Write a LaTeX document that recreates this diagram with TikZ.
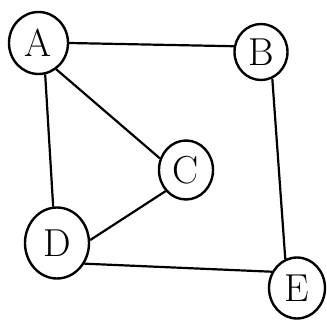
\documentclass[tikz,border=0pt]{standalone}
\usepackage{fontspec}
\usetikzlibrary{shapes.geometric}
\begin{document}
\begin{tikzpicture}[x=1pt,y=-1pt,
  vtx/.style={draw,ellipse,line width=2.4pt,inner sep=0pt,font=\fontsize{39}{42}\selectfont},
  edge/.style={line width=2.2pt}]
\useasboundingbox (0,0) rectangle (327,321);
\node[vtx,minimum width=59,minimum height=62] (A) at (38.5,43) {A};
\node[vtx,minimum width=53,minimum height=56] (B) at (261,52) {B};
\node[vtx,minimum width=54,minimum height=59] (C) at (186,170) {C};
\node[vtx,minimum width=64,minimum height=71] (D) at (57,243) {D};
\node[vtx,minimum width=56,minimum height=61] (E) at (297,288) {E};
\draw[edge] (A.0) -- (B.168);
\draw[edge] (A.-56) -- (C.156);
\draw[edge] (A.-78) -- (D.96);
\draw[edge] (B.-67) -- (E.112);
\draw[edge] (C.-134) -- (D.5);
\draw[edge] (D.-37) -- (E.147);
\end{tikzpicture}
\end{document}
